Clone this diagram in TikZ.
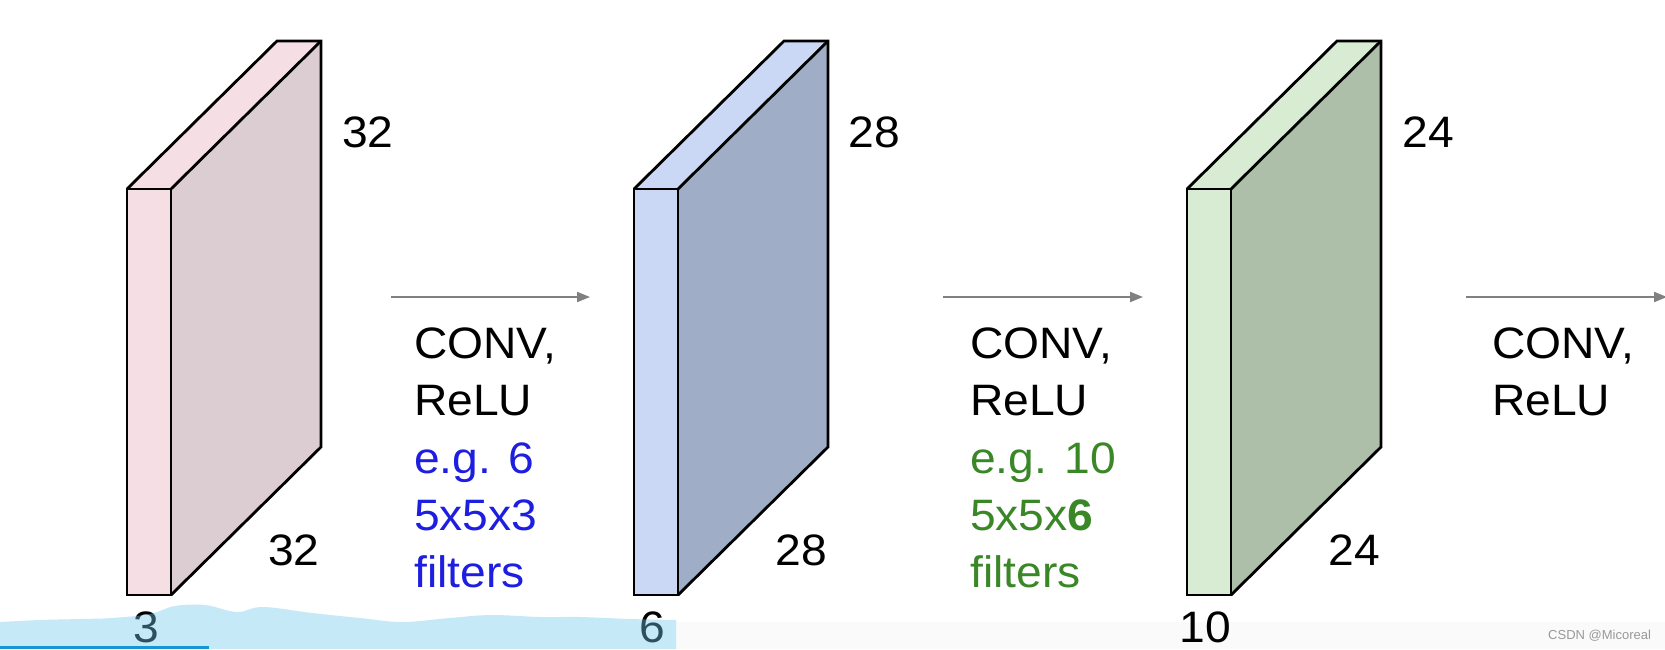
\documentclass[tikz,border=0pt]{standalone}
\usepackage{fontspec}
\setmainfont{Liberation Sans}
\newfontfamily\widefont[FakeStretch=1.05]{Liberation Sans}
\usetikzlibrary{arrows.meta}
\definecolor{pinkfront}{RGB}{245,223,229}
\definecolor{pinkside}{RGB}{220,205,210}
\definecolor{bluefront}{RGB}{202,216,245}
\definecolor{blueside}{RGB}{160,173,199}
\definecolor{greenfront}{RGB}{216,235,211}
\definecolor{greenside}{RGB}{173,191,169}
\definecolor{txtblue}{RGB}{30,30,225}
\definecolor{txtgreen}{RGB}{58,135,40}
\definecolor{arrowgray}{RGB}{128,128,128}
\definecolor{bandblue}{RGB}{112,200,237}
\definecolor{barblue}{RGB}{20,150,215}
\newcommand{\volslab}[3]{%
  \fill[#3] (#1+44,189) -- (#1+194,41) -- (#1+194,447) -- (#1+44,595) -- cycle;
  \fill[#2] (#1,189) -- (#1+150,41) -- (#1+194,41) -- (#1+44,189) -- cycle;
  \fill[#2] (#1,189) rectangle (#1+44,595);
  \draw[edge] (#1,189) rectangle (#1+44,595);
  \draw[edge] (#1,189) -- (#1+150,41) -- (#1+194,41) -- (#1+194,447) -- (#1+44,595);
  \draw[edge] (#1+44,189) -- (#1+194,41);
}
\begin{document}
\begin{tikzpicture}[x=1pt,y=-1pt,
  edge/.style={draw=black,line width=2.8pt,line join=miter},
  big/.style={font=\widefont\fontsize{44}{44}\selectfont,inner sep=0pt},
  txt/.style={big,anchor=base west},
  dim/.style={big,anchor=base},
  flow/.style={draw=arrowgray,line width=2pt,-{Triangle[length=13pt,width=10pt]}},
]
\useasboundingbox (0,0) rectangle (1665,649);
\fill[white] (0,0) rectangle (1665,649);
\fill[black!2] (676,622) rectangle (1665,649);

% slabs
\volslab{127}{pinkfront}{pinkside}
\volslab{634}{bluefront}{blueside}
\volslab{1187}{greenfront}{greenside}

% dimension labels
\node[dim] (d1t) at (368,147) {32};
\node[dim] (d1b) at (294,565) {32};
\node[dim] (d1d) at (146,642) {3};
\node[dim] (d2t) at (874,147) {28};
\node[dim] (d2b) at (801,565) {28};
\node[dim] (d2d) at (652,642) {6};
\node[dim] (d3t) at (1428,147) {24};
\node[dim] (d3b) at (1354,565) {24};
\node[dim] (d3d) at (1205,642) {10};

% arrows
\coordinate (f1s) at (391,297);
\coordinate (f1e) at (590,297);
\coordinate (f2s) at (943,297);
\coordinate (f2e) at (1143,297);
\coordinate (f3s) at (1466,297);
\coordinate (f3e) at (1667,297);
\draw[flow] (f1s) -- (f1e);
\draw[flow] (f2s) -- (f2e);
\draw[flow] (f3s) -- (f3e);

% texts
\node[txt] (c1a) at (414,358) {CONV,};
\node[txt] (c1b) at (414,415) {ReLU};
\node[txt,text=txtblue] (c1c) at (414,473) {e.g. 6};
\node[txt,text=txtblue] (c1d) at (414,530) {5x5x3};
\node[txt,text=txtblue] (c1e) at (414,587) {filters};

\node[txt] (c2a) at (970,358) {CONV,};
\node[txt] (c2b) at (970,415) {ReLU};
\node[txt,text=txtgreen] (c2c) at (970,473) {e.g. 10};
\node[txt,text=txtgreen] (c2d) at (970,530) {5x5x\textbf{6}};
\node[txt,text=txtgreen] (c2e) at (970,587) {filters};

\node[txt] (c3a) at (1492,358) {CONV,};
\node[txt] (c3b) at (1492,415) {ReLU};

\node[anchor=base west,font=\fontsize{13}{13}\selectfont,text=black!40,inner sep=0pt] (wm) at (1548,639) {CSDN @Micoreal};

% overlay band
\fill[bandblue,opacity=0.4] plot[smooth,tension=0.6] coordinates {(0,622) (40,620) (80,619) (112,618) (150,614) (175,606) (205,605) (237,612) (263,607) (312,613) (360,618) (402,622) (450,618) (491,615) (540,617) (580,617) (630,619) (676,620)} -- (676,649) -- (0,649) -- cycle;
\fill[barblue] (0,646) rectangle (209,649);
\end{tikzpicture}
\end{document}
